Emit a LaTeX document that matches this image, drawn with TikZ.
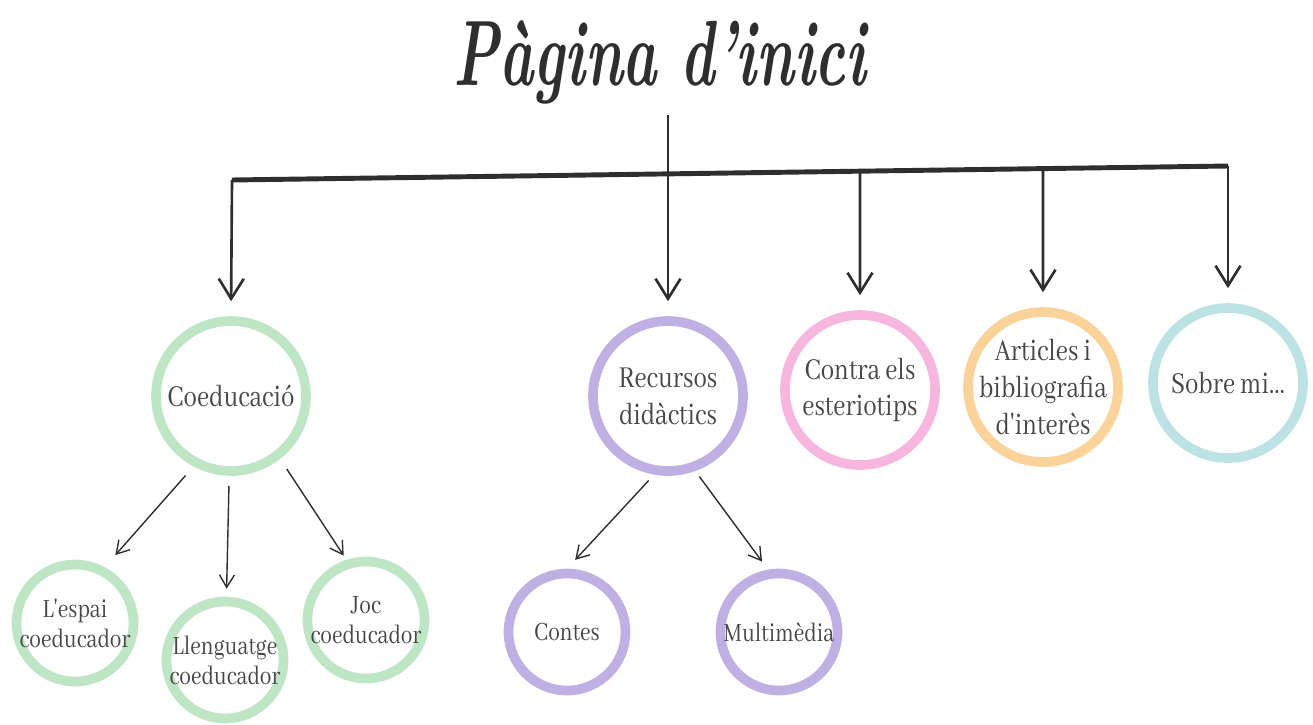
\documentclass[tikz,border=0pt]{standalone}
\usepackage{fontspec}
\usepackage{tikz}
\usetikzlibrary{arrows.meta,positioning,calc}
\usepackage{xcolor}
\newfontfamily\nodefont{Abhaya Libre}[FakeStretch=0.8]
\definecolor{ink}{HTML}{2E2E2E}
\definecolor{textgray}{HTML}{474747}
\definecolor{coegreen}{HTML}{BFE6C4}
\definecolor{recpurple}{HTML}{BFB0E3}
\definecolor{conpink}{HTML}{F7B6DE}
\definecolor{artorange}{HTML}{FAD39B}
\definecolor{sobteal}{HTML}{BDE2E3}

\begin{document}
\begin{tikzpicture}[x=1cm,y=1cm,
  bubble/.style={circle,draw,line width=5.5pt,inner sep=-12pt,align=center,text=textgray},
  topbubble/.style={bubble,minimum size=3cm,font=\nodefont\fontsize{19}{21}\selectfont},
  subbubble/.style={bubble,minimum size=2.34cm,font=\nodefont\fontsize{16.5}{17}\selectfont},
  branch/.style={-{Straight Barb[length=0.4cm,width=0.5cm]},ink,line width=1.5pt,shorten >=0.3cm},
  twig/.style={-{Straight Barb[length=0.25cm,width=0.3cm]},ink,line width=0.8pt}]
  \useasboundingbox (0,0) rectangle (26.26,-14.48);
  % Title
  \node[anchor=south,inner sep=0pt,text=ink,font=\bfseries\itshape\fontsize{33}{33}\selectfont]
    (title) at (13.2,-2.1) {\scalebox{1}[1.6]{P\`agina d'inici}};
  % Main sections
  \node[topbubble,draw=coegreen] (coe) at (4.62,-7.92) {Coeducació};
  \node[topbubble,draw=recpurple] (rec) at (13.36,-7.92) {Recursos\\didàctics};
  \node[topbubble,draw=conpink] (con) at (17.2,-7.8) {Contra els\\esteriotips};
  \node[topbubble,draw=artorange] (art) at (20.86,-7.74) {Articles i\\bibliografia\\d'interès};
  \node[topbubble,draw=sobteal] (sob) at (24.56,-7.66) {Sobre mi...};
  % Sub sections
  \node[subbubble,draw=coegreen] (esp) at (1.5,-12.46) {L'espai\\coeducador};
  \node[subbubble,draw=coegreen] (llen) at (4.5,-13.2) {Llenguatge\\coeducador};
  \node[subbubble,draw=coegreen] (joc) at (7.32,-12.4) {Joc\\coeducador};
  \node[subbubble,draw=recpurple] (cont) at (11.34,-12.64) {Contes};
  \node[subbubble,draw=recpurple] (mul) at (15.58,-12.64) {Multimèdia};
  % Top bar
  \coordinate (barL) at (4.64,-3.6);
  \coordinate (barR) at (24.56,-3.32);
  \draw[ink,line width=2.8pt] (barL) -- (barR);
  \draw[branch,shorten <=0.2cm] (title.south -| rec.north) -- (rec.north);
  \draw[branch] (barL) -- (coe.north);
  \draw[branch] (intersection of barL--barR and con--con.north) -- (con.north);
  \draw[branch] (intersection of barL--barR and art--art.north) -- (art.north);
  \draw[branch] (barR) -- (sob.north);
  % Second level
  \draw[twig,shorten <=0.24cm,shorten >=0.32cm] (coe.-118) -- (esp.62);
  \draw[twig,shorten <=0.2cm,shorten >=0.16cm] (coe) -- (llen);
  \draw[twig,shorten <=0.24cm,shorten >=0.1cm] (coe.-52) -- (joc.108);
  \draw[twig,shorten <=0.16cm,shorten >=0.24cm] (rec.-100) -- (cont.90);
  \draw[twig,shorten <=0.14cm,shorten >=0.2cm] (rec.-70) -- (mul.100);
\end{tikzpicture}
\end{document}
